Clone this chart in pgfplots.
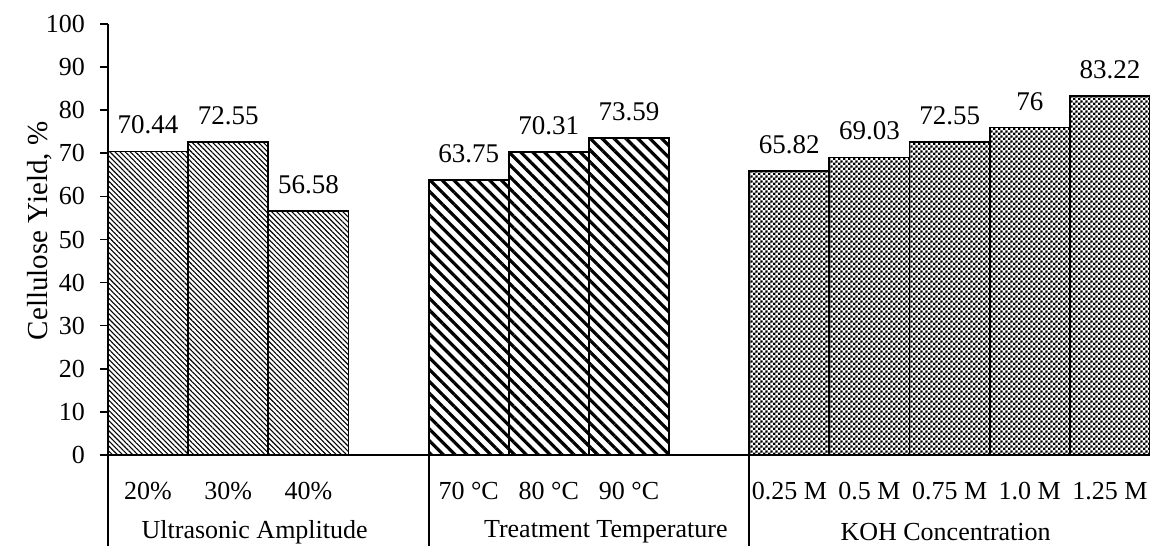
\documentclass[border=0pt]{standalone}
\usepackage{fontspec}
\setmainfont{Liberation Serif}
\usepackage{pgfplots}
\pgfplotsset{compat=1.18}
\usetikzlibrary{patterns.meta}

% fine checker used for the KOH bars
\tikzdeclarepattern{
  name=fcheck,
  bottom left={(0pt,0pt)},
  top right={(2.4pt,2.4pt)},
  tile size={(2.4pt,2.4pt)},
  code={
    \pgfpathrectangle{\pgfpointorigin}{\pgfqpoint{1.2pt}{1.2pt}}
    \pgfpathrectangle{\pgfqpoint{1.2pt}{1.2pt}}{\pgfqpoint{1.2pt}{1.2pt}}
    \pgfusepath{fill}
  }
}

\newcommand{\lbl}{\fontsize{13}{15}\selectfont}
\newcommand{\dlbl}{\fontsize{13.5}{15}\selectfont}

\begin{document}
\begin{tikzpicture}
\begin{axis}[
    scale only axis,
    width=521pt, height=215.5pt,
    ybar, bar width=1, bar shift=0pt,
    xmin=-0.5, xmax=12.5,
    ymin=0, ymax=100,
    ytick={0,10,...,100},
    xtick={0,1,2,4,5,6,8,9,10,11,12},
    xticklabels={20\%,30\%,40\%,70 °C,80 °C,90 °C,0.25 M,0.5 M,0.75 M,1.0 M,1.25 M},
    axis x line=bottom, axis y line=left,
    axis line style={-, line width=0.9pt},
    y tick style={line width=0.8pt, black},
    ytick pos=left,
    tick align=outside,
    major tick length=4pt,
    x tick style={draw=none},
    xticklabel style={font=\lbl, yshift=-6pt},
    yticklabel style={font=\lbl, xshift=-4pt},
    /pgf/number format/assume math mode=true,
    nodes near coords,
    nodes near coords style={font=\dlbl, yshift=4.8pt},
    /pgf/number format/.cd, fixed, precision=2,
    /pgfplots/.cd,
    every axis plot/.append style={draw=black, line width=0.9pt},
    clip=false,
]
\addplot[pattern={Lines[angle=-45, distance=1.8pt, line width=0.55pt]}]
  coordinates {(0,70.44) (1,72.55) (2,56.58)};
\addplot[pattern={Lines[angle=-45, distance=4.2pt, line width=1.6pt]}]
  coordinates {(4,63.75) (5,70.31) (6,73.59)};
\addplot[pattern=fcheck]
  coordinates {(8,65.82) (9,69.03) (10,72.55) (11,76) (12,83.22)};

\coordinate (SW) at (rel axis cs:0,0);
\coordinate (NE) at (rel axis cs:1,1);
\coordinate (YL) at (rel axis cs:0,0.52);
\coordinate (S1) at (axis cs:3.5,0);
\coordinate (S2) at (axis cs:7.5,0);
\coordinate (G1) at (axis cs:1.33,0);
\coordinate (G2) at (axis cs:5.71,0);
\coordinate (G3) at (axis cs:9.95,0);
\end{axis}

\draw[line width=0.9pt] (SW) -- ++(0,-45.5pt);
\draw[line width=0.9pt] (S1) -- ++(0,-45.5pt);
\draw[line width=0.9pt] (S2) -- ++(0,-45.5pt);
\node[font=\lbl] at ([yshift=-38.5pt]G1) {Ultrasonic Amplitude};
\node[font=\lbl] at ([yshift=-38.5pt]G2) {Treatment Temperature};
\node[font=\lbl] at ([yshift=-38.5pt]G3) {KOH Concentration};
\node[font=\fontsize{14.5}{16}\selectfont, rotate=90] at ([xshift=-34pt]YL) {Cellulose Yield, \%};

\pgfresetboundingbox
\path ([shift={(-54pt,-45.5pt)}]SW) rectangle ([shift={(0pt,12pt)}]NE);
\end{tikzpicture}
\end{document}
